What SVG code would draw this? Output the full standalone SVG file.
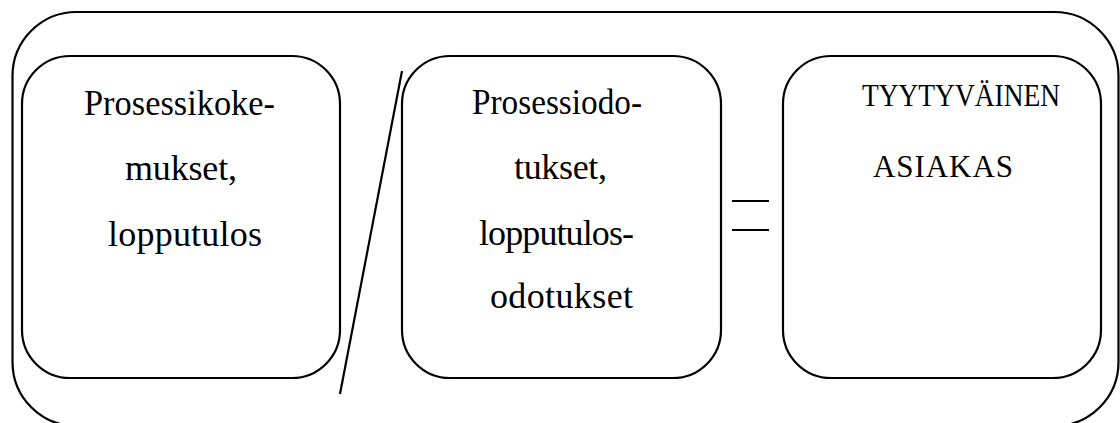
<svg xmlns="http://www.w3.org/2000/svg" width="1120" height="423" viewBox="0 0 1120 423">
<style>
.box{fill:none;stroke:#000;stroke-width:2.2}
.ln{stroke:#000;stroke-width:2.2;fill:none}
.t{font-family:'Liberation Serif','Times New Roman',serif;font-size:36px;fill:#000}
.caps{font-size:31px}
</style>
<rect width="1120" height="423" fill="#fff"/>
<g id="frame"><rect class="box" x="12.5" y="12" width="1106" height="414" rx="64" ry="64"/></g>
<g id="node1">
<rect class="box" x="22" y="56" width="318" height="322" rx="48" ry="48"/>
<text class="t" x="84" y="115" textLength="191" lengthAdjust="spacingAndGlyphs">Prosessikoke-</text>
<text class="t" x="125" y="180" textLength="112" lengthAdjust="spacing">mukset,</text>
<text class="t" x="108" y="246" textLength="154" lengthAdjust="spacing">lopputulos</text>
</g>
<g id="node2">
<rect class="box" x="402" y="56" width="319" height="322" rx="48" ry="48"/>
<text class="t" x="472" y="114" textLength="170" lengthAdjust="spacingAndGlyphs">Prosessiodo-</text>
<text class="t" x="514" y="179" textLength="93" lengthAdjust="spacing">tukset,</text>
<text class="t" x="479" y="245" textLength="155" lengthAdjust="spacing">lopputulos-</text>
<text class="t" x="490" y="308" textLength="143" lengthAdjust="spacing">odotukset</text>
</g>
<g id="node3">
<rect class="box" x="783" y="56" width="318" height="322" rx="48" ry="48"/>
<text class="t caps" x="862" y="106" textLength="198" lengthAdjust="spacingAndGlyphs">TYYTYVÄINEN</text>
<text class="t caps" x="873" y="177" textLength="140" lengthAdjust="spacing">ASIAKAS</text>
</g>
<g id="connectors">
<line class="ln" x1="402" y1="71" x2="340" y2="394"/>
<line class="ln" x1="732" y1="201" x2="769" y2="201"/>
<line class="ln" x1="732" y1="230" x2="769" y2="230"/>
</g>
</svg>
